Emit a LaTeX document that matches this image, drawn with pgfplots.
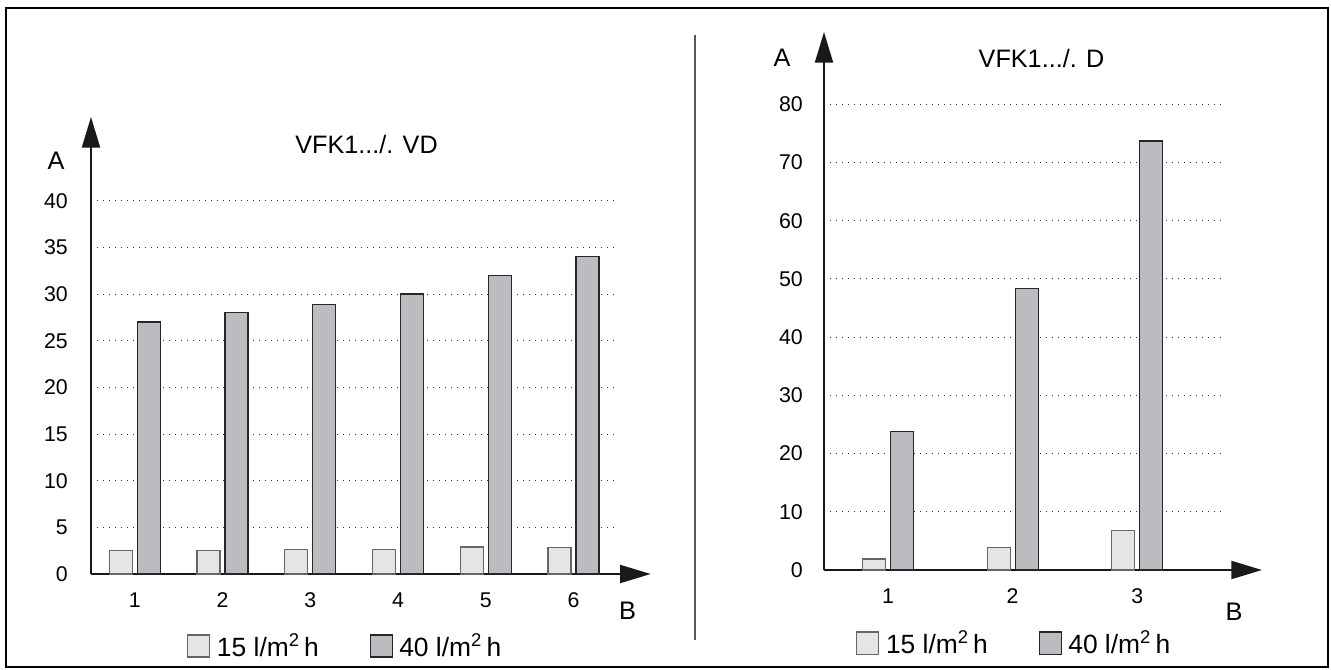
\documentclass[border=0pt]{standalone}
\usepackage{fontspec}
\setmainfont{Liberation Sans}
\usepackage{pgfplots}
\pgfplotsset{compat=1.18}
\usetikzlibrary{arrows.meta}
\definecolor{lightbar}{HTML}{E4E5E7}
\definecolor{darkbar}{HTML}{BBBCC0}
\pgfplotsset{
  mybars/.style={
    scale only axis, axis lines*=left, enlargelimits=false, clip=false,
    ymin=0, ybar, bar width=17.25pt,
    major tick length=0pt,
    ymajorgrids,
    major grid style={black!80, line width=0.65pt, dash pattern=on 0.8pt off 3.7pt},
    axis line style={line width=1.5pt, black!90},
    /pgf/number format/assume math mode=true,
    tick label style={font=\fontsize{16}{19}\selectfont, inner sep=0pt},
    xticklabel style={anchor=north, yshift=-14pt},
    legend columns=2,
    legend style={draw=none, fill=none, font=\fontsize{19.8}{22}\selectfont, inner sep=0pt,
      /tikz/every odd column/.append style={column sep=3pt},
      /tikz/every even column/.append style={column sep=36pt}},
    legend image code/.code={\draw[##1, line width=0.8pt, bar shift=0pt] (0pt,-8.25pt) rectangle (16.5pt,8.25pt);},
  },
  light/.style={fill=lightbar, draw=black!60, line width=0.9pt, bar shift=-10.5pt},
  dark/.style={fill=darkbar, draw=black!85, line width=0.9pt, bar shift=10.5pt},
}
\begin{document}
\begin{tikzpicture}[x=0.75pt,y=0.75pt]
\useasboundingbox (0,0) rectangle (1331,669);
% frame and divider
\draw[line width=1.9pt] (6,2) rectangle (1328,661);
\draw[line width=1.3pt, black!65] (695,29) -- (695,634);

% left chart
\begin{scope}[shift={(91,95)}]
\begin{axis}[mybars, at={(0pt,0pt)}, anchor=south west,
  width=396pt, height=280pt,
  xmin=0.5, xmax=6.519, ymax=40,
  xtick={1,2,3,4,5,6}, ytick={0,5,10,15,20,25,30,35,40},
  yticklabel style={anchor=east, xshift=-17.25pt},
  x axis line style={-{Triangle[length=23pt,width=13.5pt]}, shorten >=-23.8pt},
  y axis line style={-{Triangle[length=23pt,width=13.5pt]}, shorten >=-62.8pt},
  legend style={at={(axis description cs:0.1818,-0.1929)}, anchor=west}]
\addplot[light] coordinates {(1,2.5) (2,2.5) (3,2.6) (4,2.6) (5,2.9) (6,2.8)};
\addplot[dark] coordinates {(1,27) (2,28) (3,28.9) (4,30) (5,32) (6,34)};
\legend{15 l/m\textsuperscript{2}\,h, 40 l/m\textsuperscript{2}\,h}
\end{axis}
\end{scope}

% right chart
\begin{scope}[shift={(824,99)}]
\begin{axis}[mybars, at={(0pt,0pt)}, anchor=south west,
  width=297.75pt, height=349.3pt,
  xmin=0.4866, xmax=3.6715, ymax=80,
  xtick={1,2,3}, ytick={0,10,20,30,40,50,60,70,80},
  yticklabel style={anchor=east, xshift=-15.75pt},
  x axis line style={-{Triangle[length=23pt,width=13.5pt]}, shorten >=-30.75pt},
  y axis line style={-{Triangle[length=23pt,width=13.5pt]}, shorten >=-54.2pt},
  legend style={at={(axis description cs:0.0806,-0.1568)}, anchor=west}]
\addplot[light] coordinates {(1,1.9) (2,3.9) (3,6.8)};
\addplot[dark] coordinates {(1,23.8) (2,48.3) (3,73.7)};
\legend{15 l/m\textsuperscript{2}\,h, 40 l/m\textsuperscript{2}\,h}
\end{axis}
\end{scope}

% labels
\node[font=\fontsize{19}{22}\selectfont] at (56,508) {A};
\node[font=\fontsize{19}{22}\selectfont] at (782,611) {A};
\node[font=\fontsize{19}{22}\selectfont] at (627.5,58) {B};
\node[font=\fontsize{19}{22}\selectfont] at (1234,57) {B};
\node[font=\fontsize{18.9}{22}\selectfont] at (366.5,525) {VFK1.../. VD};
\node[font=\fontsize{18.9}{22}\selectfont] at (1041.5,611) {VFK1.../. D};
\end{tikzpicture}
\end{document}
